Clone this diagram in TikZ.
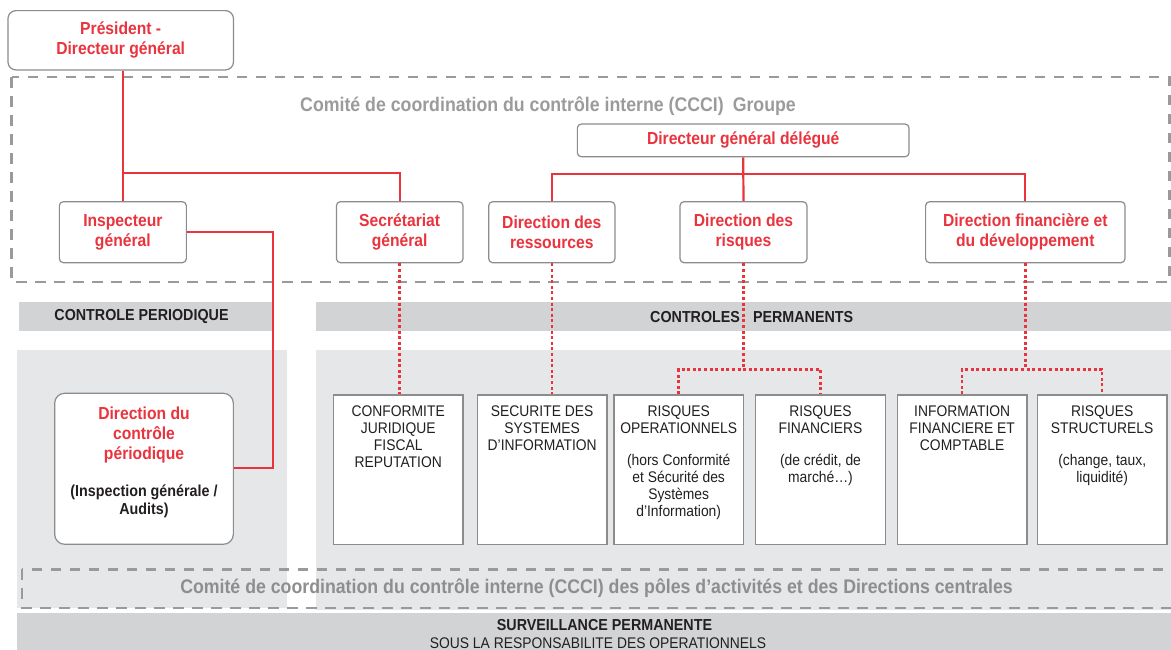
\documentclass[tikz,border=0pt]{standalone}
\usepackage{fontspec}
\setmainfont{Liberation Sans}[FakeStretch=0.9]
\definecolor{redc}{RGB}{233,52,62}
\definecolor{boxgray}{RGB}{140,140,140}
\definecolor{dashgray}{RGB}{154,154,154}
\definecolor{panelgray}{RGB}{230,231,232}
\definecolor{bandgray}{RGB}{209,211,212}
\definecolor{toptext}{RGB}{155,155,155}
\definecolor{bottext}{RGB}{142,142,142}
\definecolor{darktext}{RGB}{35,31,32}
\begin{document}
\begin{tikzpicture}[x=1pt,y=-1pt,
  redbox/.style={draw=boxgray,line width=1.2pt,rounded corners=4pt,fill=white,text=redc,
    font=\bfseries\fontsize{17.4}{20}\selectfont,align=center,inner sep=0pt},
  whitebox/.style={draw=boxgray,line width=1.2pt,fill=white,inner sep=0pt,
    minimum width=129.5pt,minimum height=149.3pt},
  lowtxt/.style={font=\fontsize{15.4}{17}\selectfont,align=center,inner sep=0pt,anchor=north,text=darktext},
  bandtxt/.style={font=\bfseries\fontsize{15.9}{18}\selectfont,inner sep=0pt,text=darktext},
  cccitxt/.style={font=\bfseries\fontsize{19.7}{22}\selectfont,inner sep=0pt},
  redline/.style={draw=redc,line width=2.2pt},
  reddot/.style={draw=redc,line width=2.5pt,dash pattern=on 3pt off 2.6pt},
  graydash/.style={draw=dashgray,line width=2.4pt,dash pattern=on 10.5pt off 8.5pt}
]
\clip (0,0) rectangle (1171,650);
\fill[white] (0,0) rectangle (1171,650);

% panels and bands
\fill[panelgray] (17,350) rectangle (287,608);
\fill[panelgray] (316,350) rectangle (1171,610);
\fill[bandgray] (19,302) rectangle (272,331);
\fill[bandgray] (316,302) rectangle (1171,331);
\fill[bandgray] (17,612.5) rectangle (1171,650);

% dashed committees
\draw[graydash] (11.5,77.3) rectangle (1169.5,281.7);
\draw[graydash] (21.7,569.3) rectangle (1200,607.7);
\node[cccitxt,text=toptext] (ccg) at (548,106) {Comité de coordination du contrôle interne (CCCI)\hspace{9pt}Groupe};
\node[cccitxt,text=bottext] (ccp) at (596.5,588) {Comité de coordination du contrôle interne (CCCI) des pôles d’activités et des Directions centrales};

% band texts
\node[bandtxt] (cper) at (141.5,317) {CONTROLE PERIODIQUE};
\node[bandtxt,anchor=west] (cperm) at (650,317) {CONTROLES\hspace{13pt}PERMANENTS};
\node[bandtxt] (surv) at (604.5,625) {SURVEILLANCE PERMANENTE};
\node[font=\fontsize{15.4}{17}\selectfont,inner sep=0pt,text=darktext] (sous) at (598,642.7) {SOUS LA RESPONSABILITE DES OPERATIONNELS};

% upper boxes
\node[redbox,rounded corners=8pt,minimum width=225.5pt,minimum height=59.3pt] (pres) at (120.7,40.3) {Président -\\Directeur général};
\node[redbox,minimum width=127pt,minimum height=61pt] (insp) at (122.85,232.2) {Inspecteur\\général};
\node[redbox,minimum width=126.6pt,minimum height=61pt] (secr) at (399.7,232.2) {Secrétariat\\général};
\node[redbox,minimum width=126.2pt,minimum height=61pt] (dres) at (551.8,232.2) {Direction des\\ressources};
\node[redbox,minimum width=127pt,minimum height=61pt] (drisq) at (743.5,232.2) {Direction des\\risques};
\node[redbox,minimum width=199.4pt,minimum height=61pt] (dfin) at (1025.3,232.2) {Direction financière et\\du développement};
\node[redbox,minimum width=331.7pt,minimum height=32.7pt] (dgd) at (743.2,140.4) {Directeur général délégué};

% direction du controle periodique
\node[draw=boxgray,line width=1.2pt,rounded corners=10pt,fill=white,minimum width=178.7pt,minimum height=151pt,inner sep=0pt] (dcp) at (144,468.8) {};
\node[text=redc,font=\bfseries\fontsize{17.4}{20}\selectfont,align=center,inner sep=0pt] (dcpt) at (144,435) {Direction du\\contrôle\\périodique};
\node[text=darktext,font=\bfseries\fontsize{15.9}{18}\selectfont,align=center,inner sep=0pt] (dcps) at (144,501) {(Inspection générale /\\Audits)};

% lower white boxes
\node[whitebox] (conf) at (398.2,469.7) {};
\node[whitebox] (secu) at (542.2,469.7) {};
\node[whitebox] (rop) at (678.7,469.7) {};
\node[whitebox] (rfi) at (820.5,469.7) {};
\node[whitebox] (inf) at (962.2,469.7) {};
\node[whitebox] (rst) at (1102.2,469.7) {};

\node[lowtxt] (conft) at (398.2,405.2) {CONFORMITE\\JURIDIQUE\\FISCAL\\REPUTATION};
\node[lowtxt] (secut) at (542.2,405.2) {SECURITE DES\\SYSTEMES\\D’INFORMATION};
\node[lowtxt] (ropt) at (678.7,405.2) {RISQUES\\OPERATIONNELS\\[15pt](hors Conformité\\et Sécurité des\\Systèmes\\d’Information)};
\node[lowtxt] (rfit) at (820.5,405.2) {RISQUES\\FINANCIERS\\[15pt](de crédit, de\\marché…)};
\node[lowtxt] (inft) at (962.2,405.2) {INFORMATION\\FINANCIERE ET\\COMPTABLE};
\node[lowtxt] (rstt) at (1102.2,405.2) {RISQUES\\STRUCTURELS\\[15pt](change, taux,\\liquidité)};

% coordinates
\coordinate (j1) at (122.85,173);
\coordinate (j2) at (743.2,174);
\coordinate (j3) at (745,369.3);
\coordinate (k) at (272.8,468.3);

% solid red connectors
\draw[redline] (insp.north |- pres.south) -- (insp.north);
\draw[redline] (j1) -| (secr.north);
\draw[redline] (insp.east) -| (k) -- (k -| dcp.east);
\draw[redline] (dgd.south) -- (drisq.north);
\draw[redline] (dres.north) -- (dres.north |- j2) -- (dfin.north |- j2) -- (dfin.north);

% dotted red connectors
\draw[reddot] (secr.south) -- (secr.south |- conf.north);
\draw[reddot] (dres.south) -- (dres.south |- secu.north);
\draw[reddot] (drisq.south) -- (drisq.south |- j3);
\draw[reddot] (rop.north) -- (rop.north |- j3) -- (rfi.north |- j3) -- (rfi.north);
\draw[reddot] (dfin.south) -- (dfin.south |- j3);
\draw[reddot] (inf.north) -- (inf.north |- j3) -- (rst.north |- j3) -- (rst.north);
\end{tikzpicture}
\end{document}
